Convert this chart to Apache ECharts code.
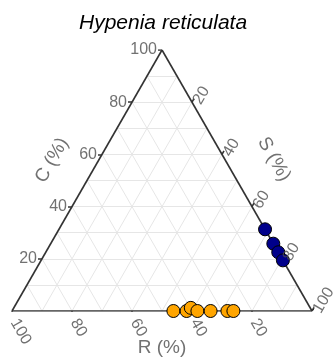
<!DOCTYPE html>
<html><head><meta charset="utf-8">
<script src="https://cdn.jsdelivr.net/npm/echarts@6/dist/echarts.min.js"></script>
<style>html,body{margin:0;padding:0;background:#fff}#c{width:335px;height:360px}</style>
</head><body><div id="c"></div>
<script>
// ---- data (percent) ----
const titleText = 'Hypenia reticulata';
const axisNames = {R: 'R (%)', C: 'C (%)', S: 'S (%)'};
const tickValues = [20, 40, 60, 80, 100];
const gridValues = [10, 20, 30, 40, 50, 60, 70, 80, 90];
const orangeR = [46.2, 41.8, 39.8, 38.2, 33.8, 28.2, 26.2];
const orangeC = [0, 0, 1.2, 0, 0, 0, 0];
const orangeS = [53.8, 58.2, 59.0, 61.8, 66.2, 71.8, 73.8];
const navyR = [0, 0, 0, 0];
const navyC = [31.3, 25.8, 22.5, 19.4];
const navyS = [68.7, 74.2, 77.5, 80.6];

// ---- ternary -> cartesian ----
const H = Math.sqrt(3) / 2;
const PX = 1 / 300; // one pixel in data units (grid is 300px wide for 1 unit)
function tern(r, c, s) { const t = r + c + s; c /= t; s /= t; return [s + c / 2, c * H]; }

const chart = echarts.init(document.getElementById('c'), null, {renderer: 'canvas'});

// grid lines
const gridLines = [];
gridValues.forEach(v => {
  const k = v / 100;
  gridLines.push({coords: [tern(1 - k, k, 0), tern(0, k, 1 - k)]}); // C const
  gridLines.push({coords: [tern(k, 1 - k, 0), tern(k, 0, 1 - k)]}); // R const
  gridLines.push({coords: [tern(1 - k, 0, k), tern(0, 1 - k, k)]}); // S const
});
const edges = [
  {coords: [tern(100, 0, 0), tern(0, 0, 100)]},
  {coords: [tern(0, 0, 100), tern(0, 100, 0)]},
  {coords: [tern(0, 100, 0), tern(100, 0, 0)]}
];
// ticks
const ticks = [];
const TL = 4 * PX;
tickValues.forEach(v => {
  const k = v / 100;
  const pc = tern(1 - k, k, 0);
  ticks.push({coords: [pc, [pc[0] - TL, pc[1]]]});
  const pr = tern(k, 0, 1 - k);
  ticks.push({coords: [pr, [pr[0], pr[1] - TL]]});
  const ps = tern(0, 1 - k, k);
  ticks.push({coords: [ps, [ps[0] + TL * 0.5, ps[1] + TL * 0.866]]});
});

const tickFont = {fontFamily: 'Liberation Sans, Arial, sans-serif', fontSize: 16, color: '#4D4D4D'};
function lbl(pt, text, opt) {
  return {value: pt, label: Object.assign({show: true, formatter: text, position: 'inside'}, tickFont, opt)};
}
const labelData = [];
tickValues.forEach(v => {
  const k = v / 100;
  const pc = tern(1 - k, k, 0);
  labelData.push(lbl([pc[0] - 5 * PX, pc[1]], String(v), {align: 'right', verticalAlign: 'middle'}));
  const pr = tern(k, 0, 1 - k);
  labelData.push(lbl([pr[0] + 2 * PX, pr[1] - 9 * PX], String(v), {align: 'left', verticalAlign: 'middle', rotate: -60}));
  const ps = tern(0, 1 - k, k);
  labelData.push(lbl([ps[0] + 5 * PX, ps[1] - 1 * PX], String(v), {align: 'left', verticalAlign: 'middle', rotate: 60}));
});
const titleFont = {fontFamily: 'Liberation Sans, Arial, sans-serif', fontSize: 19, color: '#4D4D4D'};
function tl(pt, text, rot) {
  return {value: pt, label: Object.assign({show: true, formatter: text, position: 'inside', align: 'center', verticalAlign: 'middle', rotate: rot}, titleFont)};
}
labelData.push(tl([0.5, -37 * PX], axisNames.R, 0));
labelData.push(tl([40 * PX, 150 * PX], axisNames.C, 60));
labelData.push(tl([262 * PX, 151 * PX], axisNames.S, -60));

const orangePts = orangeR.map((r, i) => tern(r, orangeC[i], orangeS[i]));
const navyPts = navyR.map((r, i) => tern(r, navyC[i], navyS[i]));

chart.setOption({
  animation: false,
  title: {text: titleText, left: 74, top: 8,
    textStyle: {fontFamily: 'Liberation Sans, Arial, sans-serif', fontStyle: 'italic', fontWeight: 'normal', fontSize: 21, color: '#000'}},
  grid: {left: 12, right: 23, top: 50, bottom: 49},
  xAxis: {type: 'value', min: 0, max: 1, show: false},
  yAxis: {type: 'value', min: 0, max: H, show: false},
  series: [
    {type: 'lines', coordinateSystem: 'cartesian2d', data: gridLines, silent: true,
      lineStyle: {color: '#E6E6E6', width: 1, opacity: 1}, z: 1},
    {type: 'lines', coordinateSystem: 'cartesian2d', data: edges.concat(ticks), silent: true,
      lineStyle: {color: '#333333', width: 1.6, opacity: 1}, z: 2},
    {type: 'scatter', data: orangePts, symbolSize: 13, clip: false,
      itemStyle: {color: '#FFA500', borderColor: '#000', borderWidth: 1, opacity: 1}, z: 3},
    {type: 'scatter', data: navyPts, symbolSize: 13, clip: false,
      itemStyle: {color: '#00008B', borderColor: '#000', borderWidth: 1, opacity: 1}, z: 3},
    {type: 'scatter', data: labelData, symbolSize: 0, clip: false, silent: true, z: 4}
  ]
});
</script></body></html>
